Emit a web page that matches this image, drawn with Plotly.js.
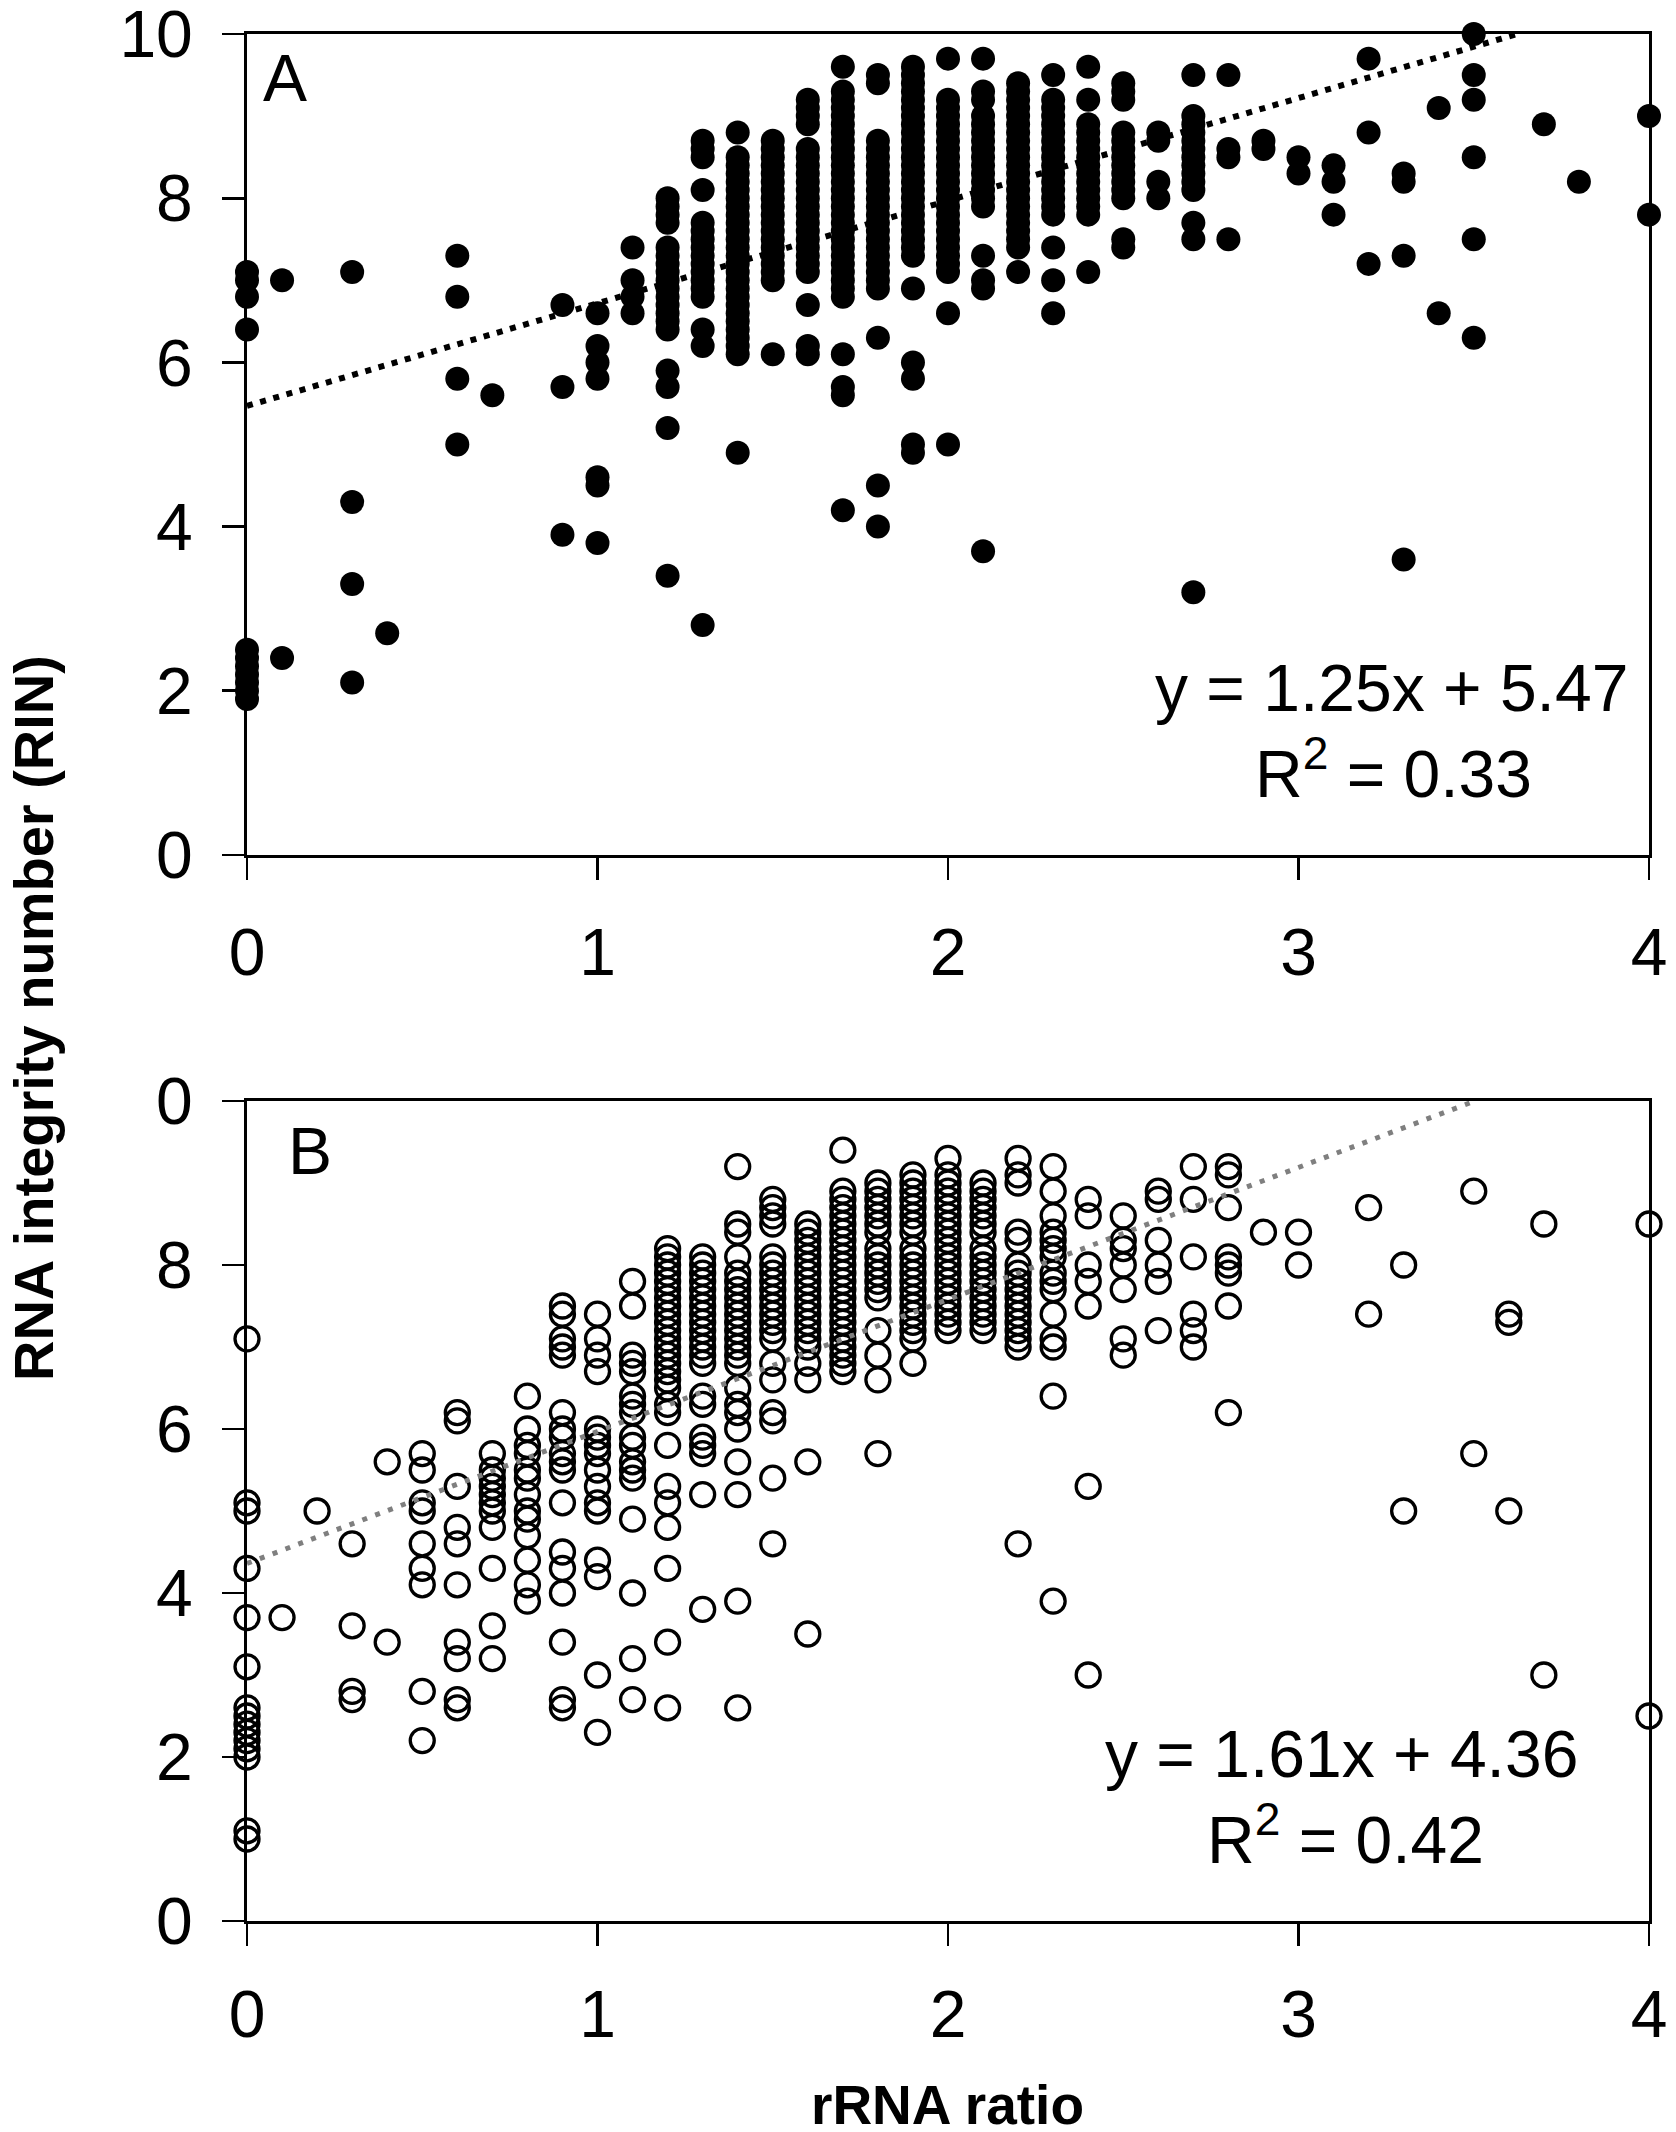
<!DOCTYPE html>
<html>
<head>
<meta charset="utf-8">
<script src="https://cdn.plot.ly/plotly-3.0.1.min.js"></script>
<style>
  html, body { margin: 0; padding: 0; background: #ffffff; }
  #chart { width: 1676px; height: 2132px; }
</style>
</head>
<body>
<div id="chart"></div>
<script>
// ---------------- Data ----------------
// Panel A: x positions of the rRNA-ratio columns and the RIN values in each column
const panelA_x = [0, 0.1, 0.3, 0.4, 0.6, 0.7, 0.9, 1.0, 1.1, 1.2, 1.3, 1.4, 1.5, 1.6, 1.7, 1.8, 1.9, 2.0, 2.1, 2.2, 2.3, 2.4, 2.5, 2.6, 2.7, 2.8, 2.9, 3.0, 3.1, 3.2, 3.3, 3.4, 3.5, 3.7, 3.8, 4.0];
const panelA_y = [
  [7.1, 7.0, 6.8, 6.4, 2.5, 2.4, 2.3, 2.2, 2.1, 2.0, 1.9],
  [7.0, 2.4],
  [7.1, 4.3, 3.3, 2.1],
  [2.7],
  [7.3, 6.8, 5.8, 5.0],
  [5.6],
  [6.7, 5.7, 3.9],
  [6.6, 6.2, 6.0, 5.8, 4.6, 4.5, 3.8],
  [7.4, 7.0, 6.8, 6.6],
  [8.0, 7.9, 7.8, 7.7, 7.4, 7.3, 7.2, 7.1, 7.0, 6.9, 6.8, 6.7, 6.6, 6.5, 6.4, 5.9, 5.7, 5.2, 3.4],
  [8.7, 8.6, 8.5, 8.1, 7.7, 7.6, 7.5, 7.4, 7.3, 7.2, 7.1, 7.0, 6.9, 6.8, 6.4, 6.2, 2.8],
  [8.8, 8.5, 8.4, 8.3, 8.2, 8.1, 8.0, 7.9, 7.8, 7.7, 7.6, 7.5, 7.4, 7.3, 7.2, 7.1, 7.0, 6.9, 6.8, 6.7, 6.6, 6.5, 6.4, 6.3, 6.2, 6.1, 4.9],
  [8.7, 8.6, 8.5, 8.4, 8.3, 8.2, 8.1, 8.0, 7.9, 7.8, 7.7, 7.6, 7.5, 7.4, 7.3, 7.2, 7.1, 7.0, 6.1],
  [9.2, 9.1, 9.0, 8.9, 8.6, 8.5, 8.4, 8.3, 8.2, 8.1, 8.0, 7.9, 7.8, 7.7, 7.6, 7.5, 7.4, 7.3, 7.2, 7.1, 6.7, 6.2, 6.1],
  [9.6, 9.3, 9.2, 9.1, 9.0, 8.9, 8.8, 8.7, 8.6, 8.5, 8.4, 8.3, 8.2, 8.1, 8.0, 7.9, 7.8, 7.7, 7.6, 7.5, 7.4, 7.3, 7.2, 7.1, 7.0, 6.9, 6.8, 6.1, 5.7, 5.6, 4.2],
  [9.5, 9.4, 8.7, 8.6, 8.5, 8.4, 8.3, 8.2, 8.1, 8.0, 7.9, 7.8, 7.7, 7.6, 7.5, 7.4, 7.3, 7.2, 7.1, 7.0, 6.9, 6.3, 4.5, 4.0],
  [9.6, 9.5, 9.4, 9.3, 9.2, 9.1, 9.0, 8.9, 8.8, 8.7, 8.6, 8.5, 8.4, 8.3, 8.2, 8.1, 8.0, 7.9, 7.8, 7.7, 7.6, 7.5, 7.4, 7.3, 6.9, 6.0, 5.8, 5.0, 4.9],
  [9.7, 9.2, 9.1, 9.0, 8.9, 8.8, 8.7, 8.6, 8.5, 8.4, 8.3, 8.2, 8.1, 8.0, 7.9, 7.8, 7.7, 7.6, 7.5, 7.4, 7.3, 7.2, 7.1, 6.6, 5.0],
  [9.7, 9.3, 9.2, 9.0, 8.9, 8.8, 8.7, 8.6, 8.5, 8.4, 8.3, 8.2, 8.1, 8.0, 7.9, 7.3, 7.0, 6.9, 3.7],
  [9.4, 9.3, 9.2, 9.1, 9.0, 8.9, 8.8, 8.7, 8.6, 8.5, 8.4, 8.3, 8.2, 8.1, 8.0, 7.9, 7.8, 7.7, 7.6, 7.5, 7.4, 7.1],
  [9.5, 9.2, 9.1, 9.0, 8.9, 8.8, 8.7, 8.6, 8.5, 8.4, 8.3, 8.2, 8.1, 8.0, 7.9, 7.8, 7.4, 7.0, 6.6],
  [9.6, 9.2, 8.9, 8.8, 8.7, 8.6, 8.5, 8.4, 8.3, 8.2, 8.1, 8.0, 7.9, 7.8, 7.1],
  [9.4, 9.3, 9.2, 8.8, 8.7, 8.6, 8.5, 8.4, 8.3, 8.2, 8.1, 8.0, 7.5, 7.4],
  [8.8, 8.7, 8.2, 8.0],
  [9.5, 9.0, 8.9, 8.8, 8.7, 8.6, 8.5, 8.4, 8.3, 8.2, 8.1, 7.7, 7.5, 3.2],
  [9.5, 8.6, 8.5, 7.5],
  [8.7, 8.6],
  [8.5, 8.3],
  [8.4, 8.2, 7.8],
  [9.7, 8.8, 7.2],
  [8.3, 8.2, 7.3, 3.6],
  [9.1, 6.6],
  [10.0, 9.5, 9.2, 8.5, 7.5, 6.3],
  [8.9],
  [8.2],
  [9.0, 7.8]
];

// Panel B: x positions of the columns and the RIN values in each column
const panelB_x = [0, 0.1, 0.2, 0.3, 0.4, 0.5, 0.6, 0.7, 0.8, 0.9, 1.0, 1.1, 1.2, 1.3, 1.4, 1.5, 1.6, 1.7, 1.8, 1.9, 2.0, 2.1, 2.2, 2.3, 2.4, 2.5, 2.6, 2.7, 2.8, 2.9, 3.0, 3.2, 3.3, 3.5, 3.6, 3.7, 4.0];
const panelB_y = [
  [7.1, 5.1, 5.0, 4.3, 3.7, 3.1, 2.6, 2.5, 2.4, 2.3, 2.2, 2.1, 2.0, 1.1, 1.0],
  [3.7],
  [5.0],
  [4.6, 3.6, 2.8, 2.7],
  [5.6, 3.4],
  [5.7, 5.5, 5.1, 5.0, 4.6, 4.3, 4.1, 2.8, 2.2],
  [6.2, 6.1, 5.3, 4.8, 4.6, 4.1, 3.4, 3.2, 2.7, 2.6],
  [5.7, 5.5, 5.4, 5.3, 5.2, 5.1, 5.0, 4.8, 4.3, 3.6, 3.2],
  [6.4, 6.0, 5.8, 5.7, 5.5, 5.4, 5.2, 5.0, 4.9, 4.7, 4.4, 4.1, 3.9],
  [7.5, 7.4, 7.1, 7.0, 6.9, 6.2, 6.0, 5.9, 5.7, 5.6, 5.5, 5.1, 4.5, 4.3, 4.0, 3.4, 2.7, 2.6],
  [7.4, 7.1, 6.9, 6.7, 6.0, 5.9, 5.8, 5.7, 5.5, 5.3, 5.1, 5.0, 4.4, 4.2, 3.0, 2.3],
  [7.8, 7.5, 6.9, 6.8, 6.7, 6.4, 6.3, 6.2, 5.9, 5.8, 5.6, 5.5, 5.4, 4.9, 4.0, 3.2, 2.7],
  [8.2, 8.1, 8.0, 7.9, 7.8, 7.7, 7.6, 7.5, 7.4, 7.3, 7.2, 7.1, 7.0, 6.9, 6.8, 6.7, 6.6, 6.5, 6.3, 6.2, 5.8, 5.3, 5.1, 4.8, 4.3, 3.4, 2.6],
  [8.1, 8.0, 7.9, 7.8, 7.7, 7.6, 7.5, 7.4, 7.3, 7.2, 7.1, 7.0, 6.9, 6.8, 6.4, 6.3, 5.9, 5.8, 5.7, 5.2, 3.8],
  [9.2, 8.5, 8.4, 8.1, 7.9, 7.8, 7.7, 7.6, 7.5, 7.4, 7.3, 7.2, 7.1, 7.0, 6.9, 6.8, 6.5, 6.3, 6.2, 6.0, 5.6, 5.2, 3.9, 2.6],
  [8.8, 8.7, 8.6, 8.5, 8.1, 8.0, 7.9, 7.8, 7.7, 7.6, 7.5, 7.4, 7.3, 7.2, 7.1, 6.8, 6.6, 6.2, 6.1, 5.4, 4.6],
  [8.5, 8.4, 8.3, 8.2, 8.1, 8.0, 7.9, 7.8, 7.7, 7.6, 7.5, 7.4, 7.3, 7.2, 7.1, 7.0, 6.8, 6.6, 5.6, 3.5],
  [9.4, 8.9, 8.8, 8.7, 8.6, 8.5, 8.4, 8.3, 8.2, 8.1, 8.0, 7.9, 7.8, 7.7, 7.6, 7.5, 7.4, 7.3, 7.2, 7.1, 7.0, 6.9, 6.8, 6.7],
  [9.0, 8.9, 8.8, 8.7, 8.6, 8.5, 8.4, 8.2, 8.1, 8.0, 7.9, 7.8, 7.7, 7.6, 7.2, 6.9, 6.6, 5.7],
  [9.1, 9.0, 8.9, 8.8, 8.7, 8.6, 8.5, 8.4, 8.2, 8.1, 8.0, 7.9, 7.8, 7.7, 7.6, 7.5, 7.4, 7.3, 7.2, 7.1, 6.8],
  [9.3, 9.1, 9.0, 8.9, 8.8, 8.7, 8.6, 8.5, 8.4, 8.3, 8.2, 8.1, 8.0, 7.9, 7.8, 7.7, 7.6, 7.5, 7.4, 7.3, 7.2],
  [9.0, 8.9, 8.8, 8.7, 8.6, 8.5, 8.4, 8.2, 8.1, 8.0, 7.9, 7.8, 7.7, 7.6, 7.5, 7.4, 7.3, 7.2],
  [9.3, 9.1, 9.0, 8.4, 8.3, 8.0, 7.9, 7.8, 7.7, 7.6, 7.5, 7.4, 7.3, 7.2, 7.1, 7.0, 4.6],
  [9.2, 8.9, 8.6, 8.4, 8.3, 8.2, 8.1, 7.9, 7.8, 7.7, 7.4, 7.1, 7.0, 6.4, 3.9],
  [8.8, 8.6, 8.0, 7.8, 7.5, 5.3, 3.0],
  [8.6, 8.3, 8.2, 8.0, 7.7, 7.1, 6.9],
  [8.9, 8.8, 8.3, 8.0, 7.8, 7.2],
  [9.2, 8.8, 8.1, 7.4, 7.2, 7.0],
  [9.2, 9.1, 8.7, 8.1, 8.0, 7.9, 7.5, 6.2],
  [8.4],
  [8.4, 8.0],
  [8.7, 7.4],
  [8.0, 5.0],
  [8.9, 5.7],
  [7.4, 7.3, 5.0],
  [8.5, 3.0],
  [8.5, 2.5]
];

// Linear fits printed on the chart
const fitA = { slope: 1.25, intercept: 5.47, r2: 0.33 };
const fitB = { slope: 1.61, intercept: 4.36, r2: 0.42 };

const xTicks = [0, 1, 2, 3, 4];
const yTicks = [0, 2, 4, 6, 8, 10];
const yTickTextA = ['0', '2', '4', '6', '8', '10'];
const yTickTextB = ['0', '2', '4', '6', '8', '0'];

// ---------------- Build traces ----------------
function flatten(xs, ys) {
  const fx = [], fy = [];
  xs.forEach((x, i) => ys[i].forEach(y => { fx.push(x); fy.push(y); }));
  return { x: fx, y: fy };
}
function fitLine(fit) {
  const xEnd = (10 - fit.intercept) / fit.slope;
  return { x: [0, xEnd], y: [fit.intercept, fit.intercept + fit.slope * xEnd] };
}

const A = flatten(panelA_x, panelA_y);
const B = flatten(panelB_x, panelB_y);
const lineA = fitLine(fitA);
const lineB = fitLine(fitB);

const traces = [
  { type: 'scatter', mode: 'lines', x: lineA.x, y: lineA.y, xaxis: 'x', yaxis: 'y',
    line: { color: '#000000', width: 6, dash: '6px,7.7px' }, hoverinfo: 'skip', cliponaxis: false },
  { type: 'scatter', mode: 'markers', x: A.x, y: A.y, xaxis: 'x', yaxis: 'y',
    marker: { symbol: 'circle', size: 24, color: '#000000', line: { width: 0 } }, cliponaxis: false },
  { type: 'scatter', mode: 'markers', x: B.x, y: B.y, xaxis: 'x2', yaxis: 'y2',
    marker: { symbol: 'circle-open', size: 24, color: '#000000', line: { width: 3.3, color: '#000000' } }, cliponaxis: false },
  { type: 'scatter', mode: 'lines', x: lineB.x, y: lineB.y, xaxis: 'x2', yaxis: 'y2',
    line: { color: '#7f7f7f', width: 5, dash: '5px,8.7px' }, hoverinfo: 'skip', cliponaxis: false }
];

// ---------------- Layout ----------------
const tickFont = { family: 'Liberation Sans, Arial, sans-serif', size: 66, color: '#000000' };
const axisCommon = {
  showline: true, linecolor: '#000000', linewidth: 3, mirror: true,
  ticks: 'outside', ticklen: 22, tickwidth: 2.7, tickcolor: '#000000',
  showgrid: false, zeroline: false, tickfont: tickFont, ticklabelstandoff: 16,
  ticklabeloverflow: 'allow', fixedrange: true
};
const xDomain = [247 / 1676, 1649 / 1676];

const textFont = { family: 'Liberation Sans, Arial, sans-serif', size: 66, color: '#000000' };
const titleFont = { family: 'Liberation Sans, Arial, sans-serif', color: '#000000' };

const layout = {
  width: 1676, height: 2132,
  margin: { l: 0, r: 0, t: 0, b: 0, pad: 0 },
  paper_bgcolor: '#ffffff', plot_bgcolor: '#ffffff',
  showlegend: false,
  xaxis: Object.assign({}, axisCommon, { domain: xDomain, anchor: 'y', range: [0, 4], tickmode: 'array', tickvals: xTicks, ticktext: xTicks.map(String) }),
  yaxis: Object.assign({}, axisCommon, { domain: [0.59897, 0.98405], anchor: 'x', range: [0, 10], tickmode: 'array', tickvals: yTicks, ticktext: yTickTextA }),
  xaxis2: Object.assign({}, axisCommon, { domain: xDomain, anchor: 'y2', range: [0, 4], tickmode: 'array', tickvals: xTicks, ticktext: xTicks.map(String), ticklabelstandoff: 12 }),
  yaxis2: Object.assign({}, axisCommon, { domain: [0.09897, 0.48358], anchor: 'x2', range: [0, 10], tickmode: 'array', tickvals: yTicks, ticktext: yTickTextB }),
  annotations: [
    { text: 'A', xref: 'x', yref: 'y', x: 0.04, y: 9.46, xanchor: 'left', yanchor: 'middle', showarrow: false, font: textFont },
    { text: 'y = ' + fitA.slope.toFixed(2) + 'x + ' + fitA.intercept.toFixed(2), xref: 'x', yref: 'y', x: 3.266, y: 2.04, xanchor: 'center', yanchor: 'middle', showarrow: false, font: textFont },
    { text: 'R<sup>2</sup> = ' + fitA.r2.toFixed(2), xref: 'x', yref: 'y', x: 3.272, y: 1.05, xanchor: 'center', yanchor: 'middle', showarrow: false, font: textFont },
    { text: 'B', xref: 'x2', yref: 'y2', x: 0.11, y: 9.39, xanchor: 'left', yanchor: 'middle', showarrow: false, font: textFont },
    { text: 'y = ' + fitB.slope.toFixed(2) + 'x + ' + fitB.intercept.toFixed(2), xref: 'x2', yref: 'y2', x: 3.122, y: 2.04, xanchor: 'center', yanchor: 'middle', showarrow: false, font: textFont },
    { text: 'R<sup>2</sup> = ' + fitB.r2.toFixed(2), xref: 'x2', yref: 'y2', x: 3.134, y: 1.05, xanchor: 'center', yanchor: 'middle', showarrow: false, font: textFont },
    { text: '<b>RNA integrity number (RIN)</b>', xref: 'paper', yref: 'paper', x: 0.0197, y: 0.5225, xanchor: 'center', yanchor: 'middle', textangle: -90, showarrow: false, font: Object.assign({ size: 56 }, titleFont) },
    { text: '<b>rRNA ratio</b>', xref: 'paper', yref: 'paper', x: 0.5656, y: 0.0125, xanchor: 'center', yanchor: 'middle', showarrow: false, font: Object.assign({ size: 55 }, titleFont) }
  ]
};

Plotly.newPlot('chart', traces, layout, { staticPlot: true, displayModeBar: false });
</script>
</body>
</html>
